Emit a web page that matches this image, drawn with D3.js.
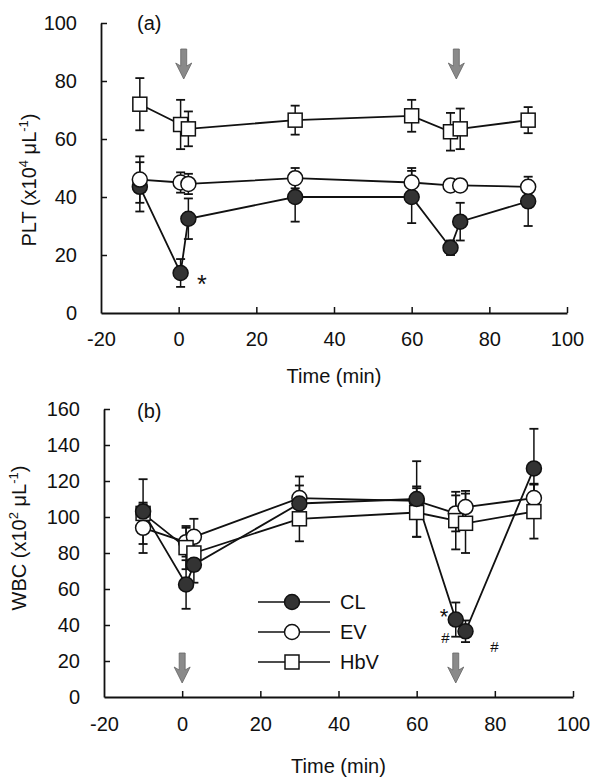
<!DOCTYPE html>
<html><head><meta charset="utf-8">
<script src="https://cdn.jsdelivr.net/npm/d3@7"></script>
<style>body{margin:0;background:#fff}svg{display:block}text{font-family:"Liberation Sans",Arial,sans-serif;fill:#111}</style>
</head><body><div id="chart"></div>
<script>
// ---- data ----
const xTicks = [-20, 0, 20, 40, 60, 80, 100];
const pltTicks = [0, 20, 40, 60, 80, 100];
const wbcTicks = [0, 20, 40, 60, 80, 100, 120, 140, 160];
const seriesNames = ["CL", "EV", "HbV"];

const timesA = [-10, 0.5, 2.5, 30, 60, 70, 72.5, 90];
const pltHbV = [72, 65, 63.5, 66.5, 68, 62.5, 63.5, 66.5];
const pltHbVErr = [9, 8.5, 6, 5, 5.5, 6.5, 7, 4.5];
const pltEV = [46, 45, 44.5, 46.5, 45, 44, 44, 43.5];
const pltEVErr = [8, 3.5, 3.5, 3.5, 5, 2, 2, 2];
const pltCL = [43.5, 13.8, 32.5, 40, 40, 22.5, 31.5, 38.5];
const pltCLErr = [8.5, 4.8, 7, 8.5, 9, 2.5, 6.5, 8.5];

const timesB = [-10, 1, 3, 30, 60, 70, 72.5, 90];
const wbcCL = [103, 62.5, 73.5, 107.5, 110, 43, 36.5, 127];
const wbcCLErr = [18, 13.5, 10, 10, 21, 9.5, 6, 22];
const wbcEV = [94, 86, 89, 110.5, 109, 102, 105.5, 110.5];
const wbcEVErr = [14, 8, 10, 12, 8, 10, 9, 8];
const wbcHbV = [102, 83, 80, 99, 102.5, 98, 96.5, 103];
const wbcHbVErr = [5, 12, 10, 12.5, 13.5, 16, 16.5, 15];

const arrowsA = [1.3, 71.5];
const arrowsB = [0, 70];

const W = 592, H = 779;
const svg = d3.select("#chart").append("svg").attr("width", W).attr("height", H);

function panel(opt) {
  const x = d3.scaleLinear().domain([-20, 100]).range(opt.xr);
  const y = d3.scaleLinear().domain(opt.yd).range(opt.yr);
  const g = svg.append("g");
  const fmt = d => String(d);
  const xa = g.append("g").attr("transform", `translate(0,${opt.yr[0]})`)
    .call(d3.axisBottom(x).tickValues(xTicks).tickFormat(fmt).tickSizeInner(-6).tickSizeOuter(0).tickPadding(opt.xPad));
  const ya = g.append("g").attr("transform", `translate(${opt.xr[0]},0)`)
    .call(d3.axisLeft(y).tickValues(opt.yTicks).tickFormat(fmt).tickSizeInner(-6).tickSizeOuter(0).tickPadding(24));
  [xa, ya].forEach(a => {
    a.selectAll("path.domain").attr("stroke", "#111").attr("stroke-width", 1.8);
    a.selectAll(".tick line").attr("stroke", "#111").attr("stroke-width", 1.5);
    a.selectAll(".tick text").style("font-size", "20px").attr("fill", "#111");
  });
  xa.selectAll(".tick").filter(d => d === -20).select("line").remove();
  ya.selectAll(".tick").filter(d => d === 0).select("line").remove();
  g.append("text").attr("x", (opt.xr[0] + opt.xr[1]) / 2).attr("y", opt.xTitleY)
    .attr("text-anchor", "middle").style("font-size", "20px").text("Time (min)");
  const yt = g.append("text").attr("transform", `translate(${opt.yTitleX},${opt.yTitleY}) rotate(-90)`)
    .attr("text-anchor", "middle").style("font-size", "20px");
  yt.append("tspan").text(opt.yTitle[0]);
  yt.append("tspan").attr("dy", -8).style("font-size", "13px").text(opt.yTitle[1]);
  yt.append("tspan").attr("dy", 8).text(" μL");
  yt.append("tspan").attr("dy", -8).style("font-size", "13px").text("-1");
  yt.append("tspan").attr("dy", 8).text(")");
  g.append("text").attr("x", opt.labelX).attr("y", opt.labelY).style("font-size", "20px").text(opt.label);

  opt.arrows.forEach(t => {
    const cx = x(t), top = opt.arrowTop, bot = opt.arrowTop + 30;
    g.append("path").attr("d",
      `M${cx - 3},${top} L${cx + 3},${top} L${cx + 3},${bot - 13} L${cx + 8},${bot - 16} L${cx},${bot} L${cx - 8},${bot - 16} L${cx - 3},${bot - 13} Z`)
      .attr("fill", "#8a8a8a").attr("stroke", "#666").attr("stroke-width", 0.8);
  });

  const line = d3.line().x(d => x(d[0])).y(d => y(d[1]));
  opt.series.forEach(s => {
    const pts = opt.times.map((t, i) => [t, s.v[i], s.e[i]]);
    g.append("path").datum(pts).attr("d", line).attr("fill", "none").attr("stroke", "#111").attr("stroke-width", 1.8);
    pts.forEach(p => {
      const cx = x(p[0]), y1 = y(p[1] + p[2]), y0 = y(p[1] - p[2]);
      g.append("line").attr("x1", cx).attr("x2", cx).attr("y1", y1).attr("y2", y0).attr("stroke", "#111").attr("stroke-width", 1.5);
      [y1, y0].forEach(yy => g.append("line").attr("x1", cx - 4.5).attr("x2", cx + 4.5).attr("y1", yy).attr("y2", yy).attr("stroke", "#111").attr("stroke-width", 1.8));
    });
  });
  opt.series.forEach(s => {
    opt.times.forEach((t, i) => marker(g, s.name, x(t), y(s.v[i])));
  });
  return { x, y, g };
}

function marker(g, name, cx, cy) {
  if (name === "HbV") {
    g.append("rect").attr("x", cx - 7).attr("y", cy - 7).attr("width", 14).attr("height", 14)
      .attr("fill", "#fff").attr("stroke", "#111").attr("stroke-width", 1.5);
  } else if (name === "EV") {
    g.append("circle").attr("cx", cx).attr("cy", cy).attr("r", 7.5)
      .attr("fill", "#fff").attr("stroke", "#111").attr("stroke-width", 1.5);
  } else {
    g.append("circle").attr("cx", cx).attr("cy", cy).attr("r", 7.5)
      .attr("fill", "#333").attr("stroke", "#111").attr("stroke-width", 1.5);
  }
}

const A = panel({
  xr: [101, 567], yd: [0, 100], yr: [313, 23], yTicks: pltTicks, xPad: 19,
  xTitleY: 383, yTitleX: 36, yTitleY: 180, yTitle: ["PLT (x10", "4"],
  label: "(a)", labelX: 137, labelY: 30, arrows: arrowsA, arrowTop: 49,
  times: timesA,
  series: [
    { name: "HbV", v: pltHbV, e: pltHbVErr },
    { name: "CL", v: pltCL, e: pltCLErr },
    { name: "EV", v: pltEV, e: pltEVErr }
  ]
});
A.g.append("text").attr("x", A.x(4.7)).attr("y", A.y(7)).style("font-size", "25px").text("*");

const B = panel({
  xr: [104, 573], yd: [0, 160], yr: [697, 409], yTicks: wbcTicks, xPad: 20,
  xTitleY: 773, yTitleX: 26, yTitleY: 538, yTitle: ["WBC (x10", "2"],
  label: "(b)", labelX: 137, labelY: 418, arrows: arrowsB, arrowTop: 653,
  times: timesB,
  series: [
    { name: "EV", v: wbcEV, e: wbcEVErr },
    { name: "HbV", v: wbcHbV, e: wbcHbVErr },
    { name: "CL", v: wbcCL, e: wbcCLErr }
  ]
});
B.g.append("text").attr("x", B.x(65.9)).attr("y", B.y(40.5)).style("font-size", "22px").text("*");
B.g.append("text").attr("x", B.x(66.3)).attr("y", B.y(30)).style("font-size", "15px").text("#");
B.g.append("text").attr("x", B.x(78.8)).attr("y", B.y(25)).style("font-size", "15px").text("#");

const legY = [602, 632, 662];
seriesNames.forEach((n, i) => {
  B.g.append("line").attr("x1", 258).attr("x2", 330).attr("y1", legY[i]).attr("y2", legY[i]).attr("stroke", "#111").attr("stroke-width", 1.5);
  marker(B.g, n, 292, legY[i]);
  B.g.append("text").attr("x", 340).attr("y", legY[i] + 7).style("font-size", "20px").text(n);
});
</script></body></html>
